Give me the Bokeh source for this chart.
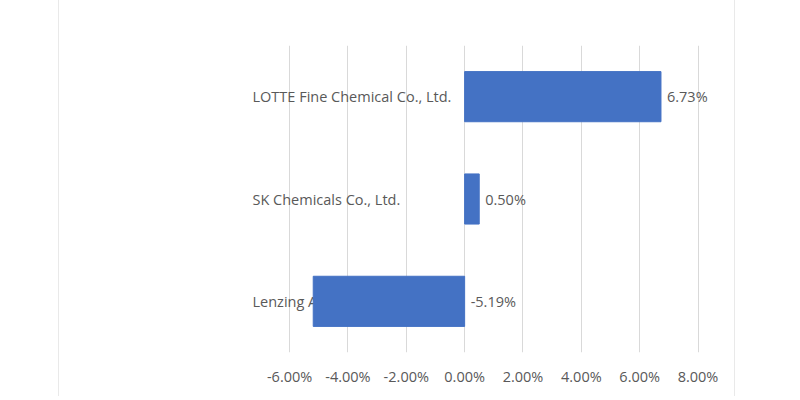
from bokeh.plotting import figure
from bokeh.models import ColumnDataSource, FactorRange, Range1d, FixedTicker, NumeralTickFormatter
from bokeh.core.properties import value
from bokeh.embed import file_html
from bokeh.resources import INLINE

# data (bottom to top)
companies = ["Lenzing AG", "SK Chemicals Co., Ltd.", "LOTTE Fine Chemical Co., Ltd."]
changes = [-0.0519, 0.0050, 0.0673]
tick_values = [-0.06, -0.04, -0.02, 0.0, 0.02, 0.04, 0.06, 0.08]

labels = [f"{v*100:.2f}%" for v in changes]
label_x = [max(v, 0.0) for v in changes]

FONT = "Open Sans"
TXT = "#595959"
FS = "14.5px"

x_start = -0.0734
src = ColumnDataSource(dict(company=companies, change=changes, label=labels, lx=label_x,
                            cx=[x_start] * len(companies)))

p = figure(width=677, height=396, output_backend="svg", toolbar_location=None,
           y_range=FactorRange(*companies), x_range=Range1d(x_start, 0.0877),
           min_border_left=191, min_border_right=16, min_border_top=45, min_border_bottom=44,
           styles={"margin-left": "58px",
                   "border-left": "1px solid #e9e9e9",
                   "border-right": "1px solid #e9e9e9"})
p.outline_line_color = None
p.background_fill_color = "white"
p.border_fill_color = "white"

# category labels (drawn beneath the bars)
p.text(x="cx", y="company", text="company", source=src, x_offset=2,
       text_align="left", text_baseline="middle", text_color=TXT,
       text_font=value(FONT), text_font_size=FS)

p.hbar(y="company", right="change", left=0, height=0.49, source=src,
       fill_color="#4472C4", line_color="#4472C4")

p.text(x="lx", y="company", text="label", source=src, x_offset=6,
       text_align="left", text_baseline="middle", text_color=TXT,
       text_font=value(FONT), text_font_size=FS)

p.yaxis.visible = False
p.ygrid.grid_line_color = None
p.xgrid.grid_line_color = "#d9d9d9"
p.xaxis.ticker = FixedTicker(ticks=tick_values)
p.xaxis.formatter = NumeralTickFormatter(format="0.00%")
p.xaxis.axis_line_color = None
p.xaxis.major_tick_line_color = None
p.xaxis.minor_tick_line_color = None
p.xaxis.major_label_standoff = 8
p.xaxis.major_label_text_color = TXT
p.xaxis.major_label_text_font = FONT
p.xaxis.major_label_text_font_size = FS

open("out.html", "w").write(file_html(p, INLINE))
